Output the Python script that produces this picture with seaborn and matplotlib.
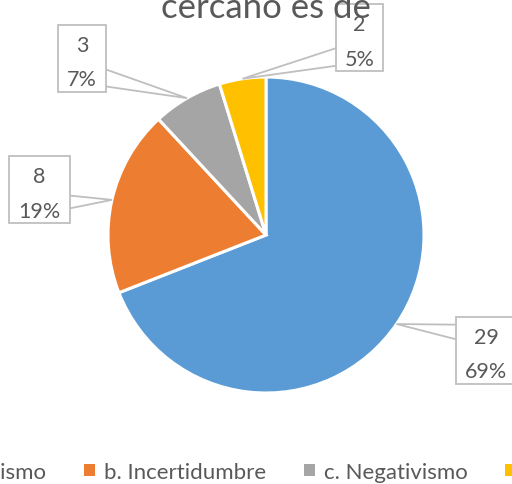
import matplotlib
matplotlib.use("Agg")
import matplotlib.pyplot as plt
import seaborn as sns
import numpy as np

# ==========================================
# Data
# ==========================================

categorias = ["a. Optimismo", "b. Incertidumbre", "c. Negativismo", "d. Indiferencia"]
cantidades = [29, 8, 3, 2]
colores = ["#5B9BD5", "#ED7D31", "#A5A5A5", "#FFC000"]
titulo = "cercano es de"

# label box centres (pixels from top-left)
cajas = [(486, 351), (39.5, 190.5), (82, 59), (359.5, 38.5)]

W, H = 512, 485
gris_txt = "#595959"
gris_borde = "#BFBFBF"

# ==========================================
# Figure
# ==========================================

sns.set_theme(style="white")
plt.rcParams["font.family"] = ["Lato", "DejaVu Sans"]

fig = plt.figure(figsize=(W / 100, H / 100), dpi=100)
ax = fig.add_axes([0, 0, 1, 1])

cx, cy, r = 266, H - 236, 158
wedges, _ = ax.pie(
    cantidades,
    colors=colores,
    startangle=90,
    counterclock=False,
    center=(cx, cy),
    radius=r,
    wedgeprops=dict(edgecolor="white", linewidth=2.2),
)
ax.set_xlim(0, W)
ax.set_ylim(0, H)
ax.set_aspect("auto")
ax.axis("off")

# ==========================================
# Callout labels
# ==========================================

renderer = fig.canvas.get_renderer()
inv = ax.transData.inverted()
total = sum(cantidades)
for w, v, (bx, by) in zip(wedges, cantidades, cajas):
    mid = np.deg2rad((w.theta1 + w.theta2) / 2)
    px = cx + r * np.cos(mid)
    py = cy + r * np.sin(mid)
    ty = H - by
    # pointer base sits on the side of the box facing the slice
    yb = ty + 14 * np.sign(py - ty)
    ax.fill([bx, px, bx], [yb - 11, py, yb + 11], fc="white",
            ec=gris_borde, lw=1.3, zorder=3)
    t = ax.text(bx, ty - 4, f"{v}\n{v / total:.0%}", ha="center",
                va="center", fontsize=15.5, color=gris_txt,
                linespacing=1.9, zorder=5)
    bb = t.get_window_extent(renderer).transformed(inv)
    ax.add_patch(plt.Rectangle((bb.x0 - 9, ty - 33.5), bb.width + 18, 67,
                               fc="white", ec=gris_borde, lw=1.3, zorder=4))

# title (cut at top, as in the reference)
fig.text(266 / W, 1 - 18 / H, titulo, ha="center", va="baseline",
         fontsize=25, color=gris_txt, zorder=5)

# ==========================================
# Legend
# ==========================================

handles = [plt.Rectangle((0, 0), 1, 1, fc=c, ec="none") for c in colores]
leg = fig.legend(
    handles,
    categorias,
    ncol=4,
    loc="center left",
    bbox_to_anchor=(-104 / W, 1 - 473 / H),
    frameon=False,
    fontsize=16,
    handlelength=0.5,
    handleheight=0.5,
    handletextpad=0.4,
    columnspacing=1.7,
    borderaxespad=0,
    borderpad=0,
)
for t in leg.get_texts():
    t.set_color(gris_txt)

fig.savefig("out.png", dpi=100)
